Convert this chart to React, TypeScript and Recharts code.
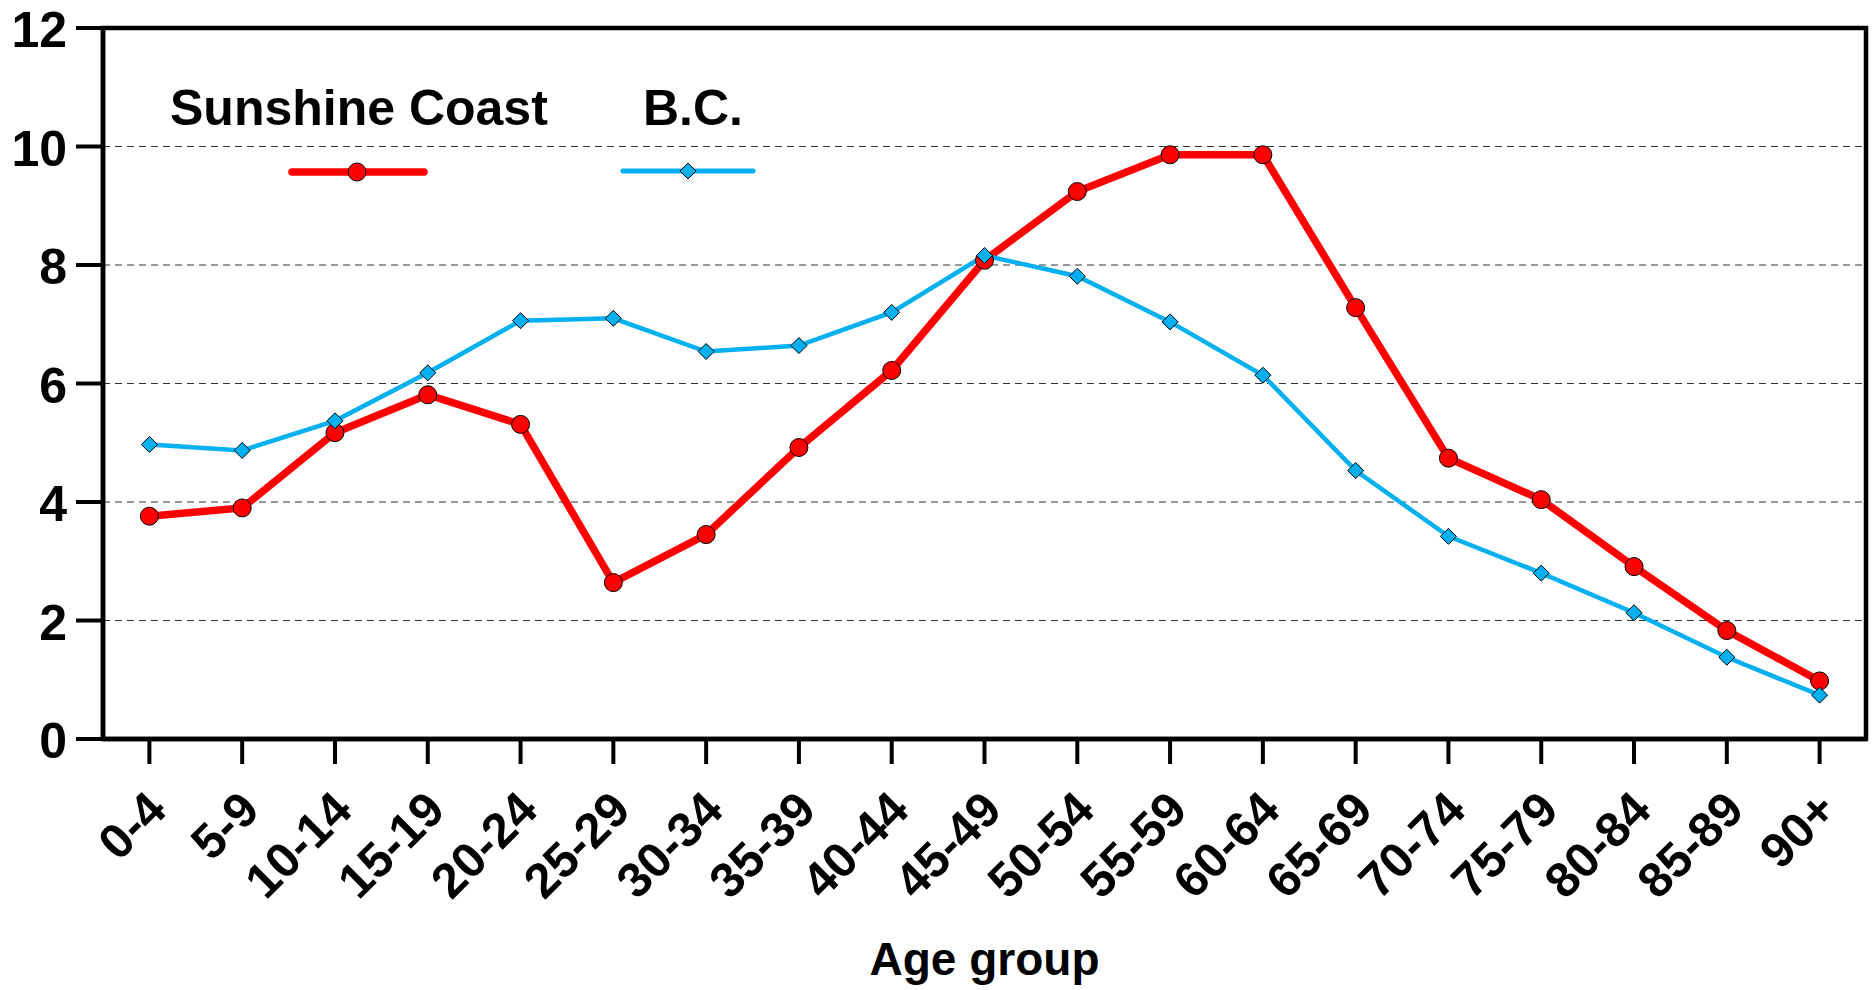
import { LineChart, Line, XAxis, YAxis, CartesianGrid, ReferenceArea, Legend, Label } from 'recharts';

const ageGroups = [
  '0-4', '5-9', '10-14', '15-19', '20-24', '25-29', '30-34', '35-39', '40-44', '45-49',
  '50-54', '55-59', '60-64', '65-69', '70-74', '75-79', '80-84', '85-89', '90+',
];
const sunshineCoast = [3.76, 3.9, 5.17, 5.81, 5.31, 2.64, 3.45, 4.92, 6.22, 8.08, 9.24, 9.86, 9.86, 7.28, 4.74, 4.04, 2.91, 1.83, 0.98];
const bcValues = [4.97, 4.87, 5.37, 6.18, 7.06, 7.1, 6.54, 6.64, 7.2, 8.16, 7.81, 7.04, 6.14, 4.53, 3.42, 2.8, 2.13, 1.38, 0.74];
const yTicks = [0, 2, 4, 6, 8, 10, 12];

const data = ageGroups.map((age, i) => ({ age, sunshine: sunshineCoast[i], bc: bcValues[i] }));

const FONT = '"Liberation Sans", Arial, Helvetica, sans-serif';
const RED = '#ff0000';
const BLUE = '#00b0f0';

function Diamond({ cx, cy, size = 8 }: { cx?: number; cy?: number; size?: number }) {
  if (cx == null || cy == null) return null;
  return (
    <polygon
      points={`${cx},${cy - size} ${cx + size},${cy} ${cx},${cy + size} ${cx - size},${cy}`}
      fill={BLUE}
      stroke="#000"
      strokeWidth={1}
    />
  );
}

function XTick(props: any) {
  const { x, y, payload } = props;
  return (
    <g transform={`translate(${x + 7},${y + 34}) rotate(-45)`}>
      <text x={0} y={0} dy="0.36em" textAnchor="end" fontFamily={FONT} fontWeight="bold" fontSize={49} fill="#000">
        {payload.value}
      </text>
    </g>
  );
}

function YTick(props: any) {
  const { x, y, payload } = props;
  return (
    <text x={x} y={y} dy={19} textAnchor="end" fontFamily={FONT} fontWeight="bold" fontSize={50} fill="#000">
      {payload.value}
    </text>
  );
}

// legend slots by series: text x, line from/to, marker x
const legendSlots: Record<string, { textX: number; x1: number; x2: number; mx: number; y: number }> = {
  sunshine: { textX: 170, x1: 292, x2: 424, mx: 357, y: 172 },
  bc: { textX: 643, x1: 623, x2: 753, mx: 688, y: 171 },
};

function ChartLegend(props: any) {
  const payload = props.payload ?? [];
  return (
    <svg width={1872} height={220} style={{ display: 'block' }}>
      {payload.map((entry: any) => {
        const s = legendSlots[entry.dataKey];
        if (!s) return null;
        const isRed = entry.dataKey === 'sunshine';
        return (
          <g key={entry.value}>
            <text x={s.textX} y={125} fontFamily={FONT} fontWeight="bold" fontSize={50} fill="#000">
              {entry.value}
            </text>
            <line
              x1={s.x1} x2={s.x2} y1={s.y} y2={s.y}
              stroke={entry.color}
              strokeWidth={isRed ? 7.5 : 5}
              strokeLinecap="round"
            />
            {isRed ? (
              <circle cx={s.mx} cy={s.y} r={9} fill={RED} stroke="#000" strokeWidth={1} />
            ) : (
              <Diamond cx={s.mx} cy={s.y} />
            )}
          </g>
        );
      })}
    </svg>
  );
}

export default function App() {
  return (
    <div style={{ position: 'absolute', left: 0, top: 0, background: '#fff' }}>
      <LineChart width={1872} height={990} data={data} margin={{ top: 28, right: 6, bottom: 0, left: 0 }}>
        <CartesianGrid vertical={false} strokeDasharray="7 5" stroke="#333" strokeWidth={1} />
        <XAxis
          dataKey="age"
          scale="band"
          interval={0}
          height={251}
          tickSize={25}
          tick={<XTick />}
          axisLine={{ stroke: '#000', strokeWidth: 4.5 }}
          tickLine={{ stroke: '#000', strokeWidth: 4 }}
        >
          <Label
            value="Age group"
            position="insideBottom"
            offset={15}
            style={{ fontFamily: FONT, fontWeight: 'bold', fontSize: 46, fill: '#000' }}
          />
        </XAxis>
        <YAxis
          width={103}
          domain={[0, 12]}
          ticks={yTicks}
          interval={0}
          tickSize={27}
          tickMargin={9}
          tick={<YTick />}
          axisLine={{ stroke: '#000', strokeWidth: 4.5 }}
          tickLine={{ stroke: '#000', strokeWidth: 4 }}
        />
        <ReferenceArea y1={0} y2={12} fill="none" stroke="#000" strokeWidth={4.5} ifOverflow="visible" />
        <Legend
          layout="horizontal"
          verticalAlign="middle"
          align="center"
          content={<ChartLegend />}
          wrapperStyle={{ left: 0, top: 0, width: 1872, height: 220, pointerEvents: 'none' }}
        />
        <Line
          name="Sunshine Coast"
          dataKey="sunshine"
          stroke={RED}
          strokeWidth={7.5}
          dot={{ r: 9, fill: RED, stroke: '#000', strokeWidth: 1 }}
          activeDot={false}
          isAnimationActive={false}
        />
        <Line
          name="B.C."
          dataKey="bc"
          stroke={BLUE}
          strokeWidth={4.5}
          dot={(p: any) => <Diamond key={p.index} cx={p.cx} cy={p.cy} />}
          activeDot={false}
          isAnimationActive={false}
        />
      </LineChart>
    </div>
  );
}
